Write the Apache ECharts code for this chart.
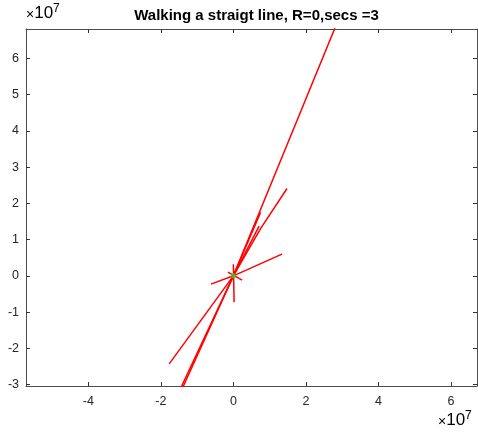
<!DOCTYPE html>
<html>
<head>
<meta charset="utf-8">
<script src="https://cdn.jsdelivr.net/npm/echarts@6/dist/echarts.min.js"></script>
<style>html,body{margin:0;padding:0;background:#fff}#c{width:478px;height:432px}</style>
</head>
<body>
<div id="c"></div>
<script>
// Tick positions (raw units; labels shown in units of 1e7)
const xTicks = [-4e7, -2e7, 0, 2e7, 4e7, 6e7];
const yTicks = [-3e7, -2e7, -1e7, 0, 1e7, 2e7, 3e7, 4e7, 5e7, 6e7];
const xRange = [-5.72e7, 6.72e7];
const yRange = [-3.04e7, 6.81e7];

// Walk segments [x, y]
const walkA = [[0, 0], [2.95e7, 7.2e7]];
const walkA2 = [[0, 0], [0.75e7, 1.75e7]];
const walkB = [[0, 0], [0.71e7, 1.37e7]];
const walkC = [[0, 0], [0.75e7, 1.3e7], [1.48e7, 2.41e7]];
const walkD = [[-0.62e7, -0.23e7], [0, 0], [1.34e7, 0.6e7]];
const walkE = [[0, 0.32e7], [0.02e7, -0.73e7]];
const walkF = [[-0.15e7, 0.1e7], [0.24e7, -0.12e7]];
const walkG = [[0, 0], [-1.77e7, -2.43e7]];
const walkH = [[0, 0], [-1.5e7, -3.2e7]];
const walkH2 = [[0, 0], [-1.45e7, -3.2e7]];
const walks = [walkA, walkA2, walkB, walkC, walkD, walkE, walkF, walkG, walkH, walkH2];
const origin = [[0, 0]];

const FONT = 'Liberation Sans, Arial, sans-serif';
const fmt = v => String(Math.round(v / 1e6) / 10);

const expRich = {
  s: {fontSize: 14, fontFamily: FONT, color: '#4d4d4d', verticalAlign: 'bottom', lineHeight: 19},
  a: {fontSize: 17, fontFamily: FONT, color: '#262626', verticalAlign: 'bottom', lineHeight: 19},
  b: {fontSize: 12, fontFamily: FONT, color: '#262626', verticalAlign: 'top', lineHeight: 19}
};

const chart = echarts.init(document.getElementById('c'), null, {renderer: 'canvas'});
const axisCommon = {
  axisLine: {show: true, onZero: false, lineStyle: {color: '#4d4d4d', width: 1}},
  splitLine: {show: false},
};
chart.setOption({
  animation: false,
  backgroundColor: '#fff',
  title: {
    text: 'Walking a straigt line, R=0,secs =3',
    left: 251.5, top: 3, textAlign: 'center',
    textStyle: {fontFamily: FONT, fontWeight: 'bold', fontSize: 15, color: '#000'}
  },
  grid: {left: 26, right: 1, top: 29, bottom: 46, outerBoundsMode: 'none', containLabel: false},
  xAxis: [
    Object.assign({}, axisCommon, {
      type: 'value', min: xRange[0], max: xRange[1], position: 'bottom',
      axisTick: {show: true, inside: true, length: 4, customValues: xTicks, lineStyle: {color: '#333'}},
      axisLabel: {show: true, customValues: xTicks, formatter: fmt, margin: 9,
        fontFamily: FONT, fontSize: 12.5, color: '#262626'}
    }),
    Object.assign({}, axisCommon, {
      type: 'value', min: xRange[0], max: xRange[1], position: 'top',
      axisTick: {show: true, inside: true, length: 4, customValues: xTicks, lineStyle: {color: '#333'}},
      axisLabel: {show: false}
    })
  ],
  yAxis: [
    Object.assign({}, axisCommon, {
      type: 'value', min: yRange[0], max: yRange[1], position: 'left',
      axisTick: {show: true, inside: true, length: 4, customValues: yTicks, lineStyle: {color: '#333'}},
      axisLabel: {show: true, customValues: yTicks, formatter: fmt, margin: 7,
        fontFamily: FONT, fontSize: 12.5, color: '#262626'}
    }),
    Object.assign({}, axisCommon, {
      type: 'value', min: yRange[0], max: yRange[1], position: 'right',
      axisTick: {show: true, inside: true, length: 4, customValues: yTicks, lineStyle: {color: '#333'}},
      axisLabel: {show: false}
    })
  ],
  graphic: [
    {type: 'text', left: 26, top: 3, style: {text: '{s|×}{a|10}{b|7}', rich: expRich}},
    {type: 'text', left: 438, top: 410, style: {text: '{s|×}{a|10}{b|7}', rich: expRich}}
  ],
  series: walks.map(w => ({
    type: 'line', data: w, symbol: 'none', clip: true, silent: true,
    lineStyle: {color: '#ff0000', width: 1.5}
  })).concat([{
    type: 'scatter', data: origin, symbol: 'circle', symbolSize: 5,
    itemStyle: {color: '#22dd22'}, z: 5
  }])
});
</script>
</body>
</html>
